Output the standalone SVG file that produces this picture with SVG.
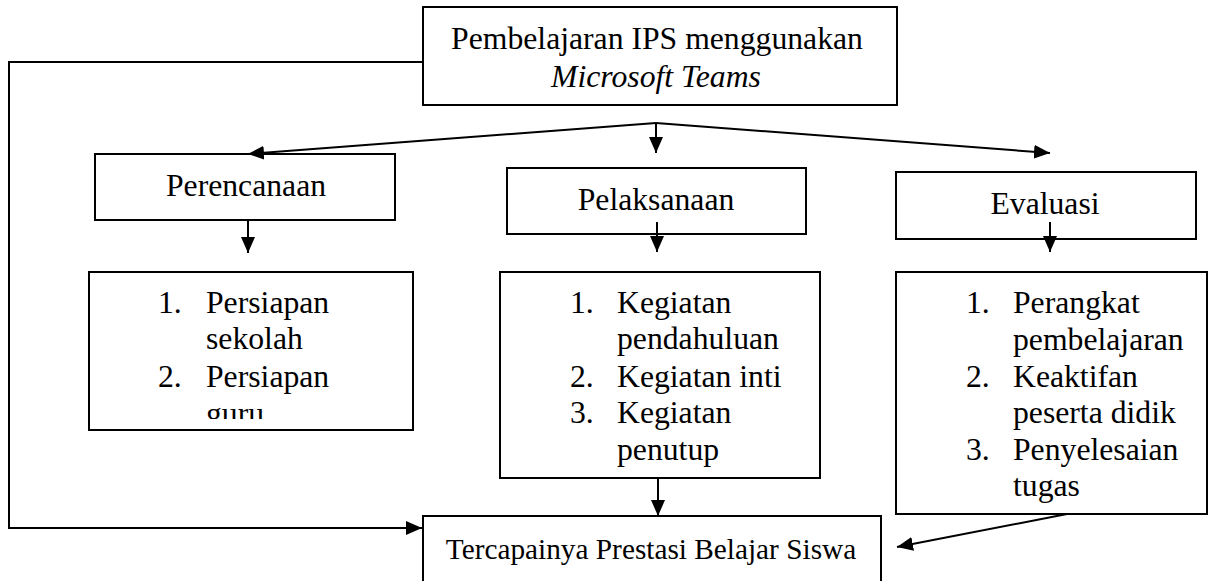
<svg xmlns="http://www.w3.org/2000/svg" width="1215" height="581" viewBox="0 0 1215 581">
<style>
.box{fill:#fff;stroke:#000;stroke-width:2}
.ln{fill:none;stroke:#000;stroke-width:2}
text{font-family:"Liberation Serif","Times New Roman",serif;font-size:31.7px;fill:#000}
.c{text-anchor:middle}
</style>
<defs>
<marker id="ah" viewBox="0 0 16 14" refX="16" refY="7" markerWidth="16" markerHeight="14" orient="auto" markerUnits="userSpaceOnUse">
<path d="M0,0 L16,7 L0,14 Z" fill="#000"/>
</marker>
<clipPath id="clipP"><rect x="89" y="272" width="324" height="147"/></clipPath>
</defs>
<rect width="1215" height="581" fill="#fff"/>
<g id="top">
<rect class="box" x="423" y="7" width="474" height="98"/>
<text class="c" x="657" y="49">Pembelajaran IPS menggunakan</text>
<text class="c" x="656" y="87" font-style="italic">Microsoft Teams</text>
</g>
<g id="perencanaan">
<rect class="box" x="95" y="154" width="300" height="66"/>
<text class="c" x="246" y="196">Perencanaan</text>
</g>
<g id="pelaksanaan">
<rect class="box" x="507" y="168" width="299" height="66"/>
<text class="c" x="656" y="210">Pelaksanaan</text>
</g>
<g id="evaluasi">
<rect class="box" x="896" y="172" width="300" height="67"/>
<text class="c" x="1045" y="214">Evaluasi</text>
</g>
<g id="list-perencanaan">
<rect class="box" x="89" y="272" width="324" height="158"/>
<g clip-path="url(#clipP)">
<text x="158" y="313">1.</text><text x="206" y="313">Persiapan</text>
<text x="206" y="349">sekolah</text>
<text x="158" y="387">2.</text><text x="206" y="387">Persiapan</text>
<text x="206" y="424">guru</text>
</g>
</g>
<g id="list-pelaksanaan">
<rect class="box" x="500" y="272" width="320" height="206"/>
<text x="570" y="313">1.</text><text x="617" y="313">Kegiatan</text>
<text x="617" y="349">pendahuluan</text>
<text x="570" y="387">2.</text><text x="617" y="387">Kegiatan inti</text>
<text x="570" y="423">3.</text><text x="617" y="423">Kegiatan</text>
<text x="617" y="460">penutup</text>
</g>
<g id="list-evaluasi">
<rect class="box" x="896" y="272" width="311" height="242"/>
<text x="966" y="313">1.</text><text x="1013" y="313">Perangkat</text>
<text x="1013" y="350">pembelajaran</text>
<text x="966" y="387">2.</text><text x="1013" y="387">Keaktifan</text>
<text x="1013" y="423">peserta didik</text>
<text x="966" y="460">3.</text><text x="1013" y="460">Penyelesaian</text>
<text x="1013" y="496">tugas</text>
</g>
<g id="hasil">
<rect class="box" x="423" y="516" width="458" height="80"/>
<text class="c" x="651" y="559" style="font-size:29.3px">Tercapainya Prestasi Belajar Siswa</text>
</g>
<g id="connectors">
<path class="ln" d="M423,62 H9 V528 H422" marker-end="url(#ah)"/>
<path class="ln" d="M656,123 L248,154" marker-end="url(#ah)"/>
<path class="ln" d="M656,123 L656,153" marker-end="url(#ah)"/>
<path class="ln" d="M656,123 L1050,153" marker-end="url(#ah)"/>
<path class="ln" d="M248,220 L248,253" marker-end="url(#ah)"/>
<path class="ln" d="M657,222 L657,252" marker-end="url(#ah)"/>
<path class="ln" d="M1050,222 L1050,252" marker-end="url(#ah)"/>
<path class="ln" d="M658,478 L658,516" marker-end="url(#ah)"/>
<path class="ln" d="M1067,514 L897,547" marker-end="url(#ah)"/>
</g>
</svg>
